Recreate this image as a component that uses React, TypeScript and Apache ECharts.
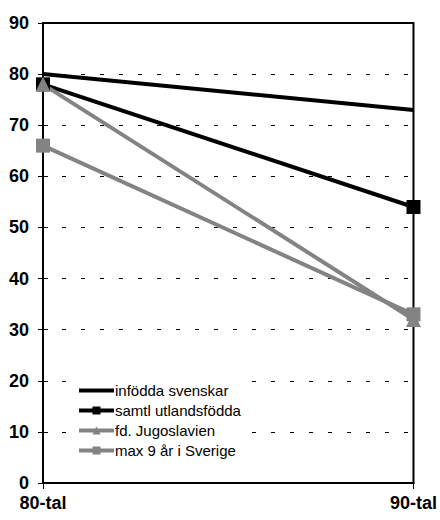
import React, { useEffect, useRef } from "react";
import * as echarts from "echarts";

const categories = ["80-tal", "90-tal"];
const seriesNames = ["infödda svenskar", "samtl utlandsfödda", "fd. Jugoslavien", "max 9 år i Sverige"];
const infodda = [80, 73];
const samtl = [78, 54];
const jugoslavien = [78, 32];
const max9 = [66, 33];
const yTicks = { min: 0, max: 90, interval: 10 };

export default function App() {
  const ref = useRef<HTMLDivElement>(null);
  useEffect(() => {
    if (!ref.current) return;
    const chart = echarts.init(ref.current, null, { renderer: "svg" });
    const font = "Liberation Sans, Arial, sans-serif";
    const gray = "#838383";
    chart.setOption({
      animation: false,
      textStyle: { fontFamily: font },
      grid: {
        left: 43,
        right: 25,
        top: 23,
        bottom: 37,
        containLabel: false,
        show: true,
        borderColor: "#000",
        borderWidth: 2,
      },
      legend: {
        orient: "vertical",
        left: 70,
        top: 377,
        padding: [6, 10, 6, 7],
        backgroundColor: "#fff",
        itemWidth: 35,
        itemHeight: 10,
        itemGap: 5,
        lineStyle: { width: 4 },
        data: [
          { name: seriesNames[0], itemStyle: { opacity: 0 }, lineStyle: { width: 4, color: "#000" } },
          { name: seriesNames[1], lineStyle: { width: 4 } },
          { name: seriesNames[2], lineStyle: { width: 4 } },
          { name: seriesNames[3], lineStyle: { width: 4 } },
        ],
        textStyle: {
          fontSize: 15,
          lineHeight: 15,
          color: "#000",
          fontFamily: font,
          padding: [0, 0, 0, -4],
        },
      },
      xAxis: {
        type: "category",
        data: categories,
        boundaryGap: false,
        axisLine: { lineStyle: { color: "#000", width: 2 } },
        axisTick: { show: true, length: 6, lineStyle: { color: "#000", width: 1 } },
        axisLabel: { fontSize: 18, fontWeight: "bold", color: "#000", margin: 11, fontFamily: font },
        splitLine: { show: false },
      },
      yAxis: [
        {
          type: "value",
          min: yTicks.min,
          max: yTicks.max,
          interval: yTicks.interval,
          axisLine: { show: true, lineStyle: { color: "#000", width: 2 } },
          axisTick: { show: true, length: 5, lineStyle: { color: "#000", width: 1 } },
          axisLabel: { fontSize: 18, fontWeight: "bold", color: "#000", margin: 14, fontFamily: font },
          splitLine: {
            show: true,
            lineStyle: { color: "#000", width: 1, type: [4, 15], dashOffset: 0 },
          },
        },
        {
          type: "value",
          min: yTicks.min,
          max: yTicks.max,
          interval: yTicks.interval,
          position: "left",
          axisLine: { show: false },
          axisTick: { show: true, inside: true, length: 5, lineStyle: { color: "#000", width: 1 } },
          axisLabel: { show: false },
          splitLine: { show: false },
        },
      ],
      series: [
        {
          name: seriesNames[0],
          type: "line",
          data: infodda,
          symbol: "none",
          lineStyle: { color: "#000", width: 4 },
          itemStyle: { color: "#000" },
        },
        {
          name: seriesNames[1],
          type: "line",
          data: samtl,
          symbol: "rect",
          symbolSize: 14,
          lineStyle: { color: "#000", width: 4 },
          itemStyle: { color: "#000" },
        },
        {
          name: seriesNames[2],
          type: "line",
          data: jugoslavien,
          symbol: "triangle",
          symbolSize: 15,
          lineStyle: { color: gray, width: 4 },
          itemStyle: { color: gray },
        },
        {
          name: seriesNames[3],
          type: "line",
          data: max9,
          symbol: "rect",
          symbolSize: 14,
          lineStyle: { color: gray, width: 4 },
          itemStyle: { color: gray },
        },
      ],
    });
    return () => chart.dispose();
  }, []);
  return (
    <div
      ref={ref}
      style={{ position: "fixed", left: 0, top: 0, width: 440, height: 520, background: "#fff" }}
    />
  );
}
